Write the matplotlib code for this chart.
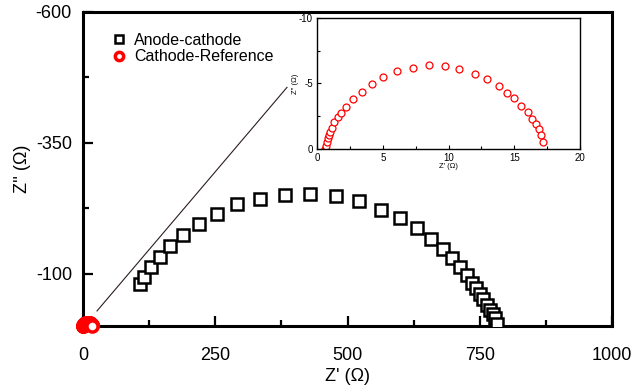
import matplotlib
matplotlib.use('Agg')
from matplotlib import pyplot as plt
from matplotlib.ticker import MultipleLocator

plt.rcParams['font.family'] = ['Liberation Sans', 'DejaVu Sans']
plt.rcParams['axes.unicode_minus'] = False

# Anode-cathode (main plot), Z' and Z'' in ohm
ac_zre = [107.8, 115.9, 128.5, 145.6, 164.5, 188.5, 218.7, 252.7, 291.7, 334.6,
          381.9, 429.1, 477.7, 522.3, 563.3, 599.2, 630.8, 657.8, 680.0, 698.1,
          712.7, 725.3, 734.8, 742.3, 750.5, 756.7, 763.1, 769.4, 774.5, 778.8, 783.2]
ac_zim = [-79.9, -94.5, -113.1, -130.9, -152.8, -174.4, -195.5, -214.7, -232.5, -243.4,
          -249.8, -252.4, -249.2, -238.3, -222.3, -205.7, -186.5, -166.2, -147.0, -129.0,
          -111.8, -97.2, -83.0, -72.3, -61.3, -51.2, -40.3, -30.7, -23.0, -14.8, -3.8]

# Cathode-Reference (inset and main plot)
cr_zre = [0.61, 0.66, 0.74, 0.81, 0.89, 0.99, 1.12, 1.32, 1.57, 1.83, 2.21, 2.71,
          3.40, 4.16, 5.04, 6.11, 7.27, 8.54, 9.71, 10.80, 11.99, 12.95, 13.84,
          14.42, 14.98, 15.49, 16.05, 16.35, 16.63, 16.91, 17.03, 17.16]
cr_zim = [0.0, -0.25, -0.56, -0.82, -1.07, -1.32, -1.63, -2.04, -2.42, -2.75, -3.24, -3.85,
          -4.38, -4.97, -5.53, -5.97, -6.22, -6.40, -6.33, -6.10, -5.76, -5.33, -4.80,
          -4.31, -3.88, -3.31, -2.81, -2.30, -1.89, -1.51, -1.07, -0.56]

# zoom pointer line (data coords of main axes)
pointer_x = [26.5, 385.6]
pointer_y = [-28.8, -456.0]

fig = plt.figure(figsize=(6.35, 3.92), dpi=100)
ax = fig.add_axes([0.1307, 0.1684, 0.8331, 0.8010])

ax.plot(ac_zre, ac_zim, ls='none', marker='s', ms=8.2, mew=1.8, mec='black',
        mfc='white', label='Anode-cathode', zorder=3)
ax.plot(cr_zre, cr_zim, ls='none', marker='o', ms=8, mew=2.5, mec='red',
        mfc='white', label='Cathode-Reference', clip_on=False, zorder=4)
ax.plot(pointer_x, pointer_y, c='#2b1d1d', lw=0.8)

ax.set_xlim(0, 1000)
ax.set_ylim(0, -600)
ax.xaxis.set_major_locator(MultipleLocator(250))
ax.xaxis.set_minor_locator(MultipleLocator(125))
ax.set_yticks([-600, -350, -100])
ax.set_yticks([-475, -225], minor=True)
ax.tick_params(which='both', direction='in', width=1.6, labelsize=13)
ax.tick_params(which='major', length=7)
ax.tick_params(which='minor', length=4.5)
ax.tick_params(axis='y', pad=8)
ax.tick_params(axis='x', pad=15)
for s in ax.spines.values():
    s.set_linewidth(2.2)
ax.set_xlabel("Z' (\u03a9)", fontsize=13, labelpad=3)
ax.set_ylabel("Z'' (\u03a9)", fontsize=13, labelpad=3)

leg = ax.legend(loc='upper left', bbox_to_anchor=(0.045, 0.955), frameon=False,
                fontsize=11.5, handlelength=0.7, handletextpad=0.6, labelspacing=0.12,
                markerscale=0.75, borderaxespad=0)

# inset
ins = fig.add_axes([0.4992, 0.6199, 0.4142, 0.3342])
ins.plot(cr_zre, cr_zim, ls='none', marker='o', ms=5, mew=0.9, mec='red', mfc='white')
ins.set_xlim(0, 20)
ins.set_ylim(0, -10)
ins.xaxis.set_major_locator(MultipleLocator(5))
ins.xaxis.set_minor_locator(MultipleLocator(2.5))
ins.yaxis.set_major_locator(MultipleLocator(5))
ins.yaxis.set_minor_locator(MultipleLocator(2.5))
ins.tick_params(which='both', direction='in', width=0.8, labelsize=7, pad=3)
ins.tick_params(which='major', length=3)
ins.tick_params(which='minor', length=2)
for s in ins.spines.values():
    s.set_linewidth(1.0)
ins.set_xlabel("Z' (\u03a9)", fontsize=5.5, labelpad=0)
ins.set_ylabel("Z'' (\u03a9)", fontsize=5.5, labelpad=0)

fig.savefig('out.png', dpi=100)
